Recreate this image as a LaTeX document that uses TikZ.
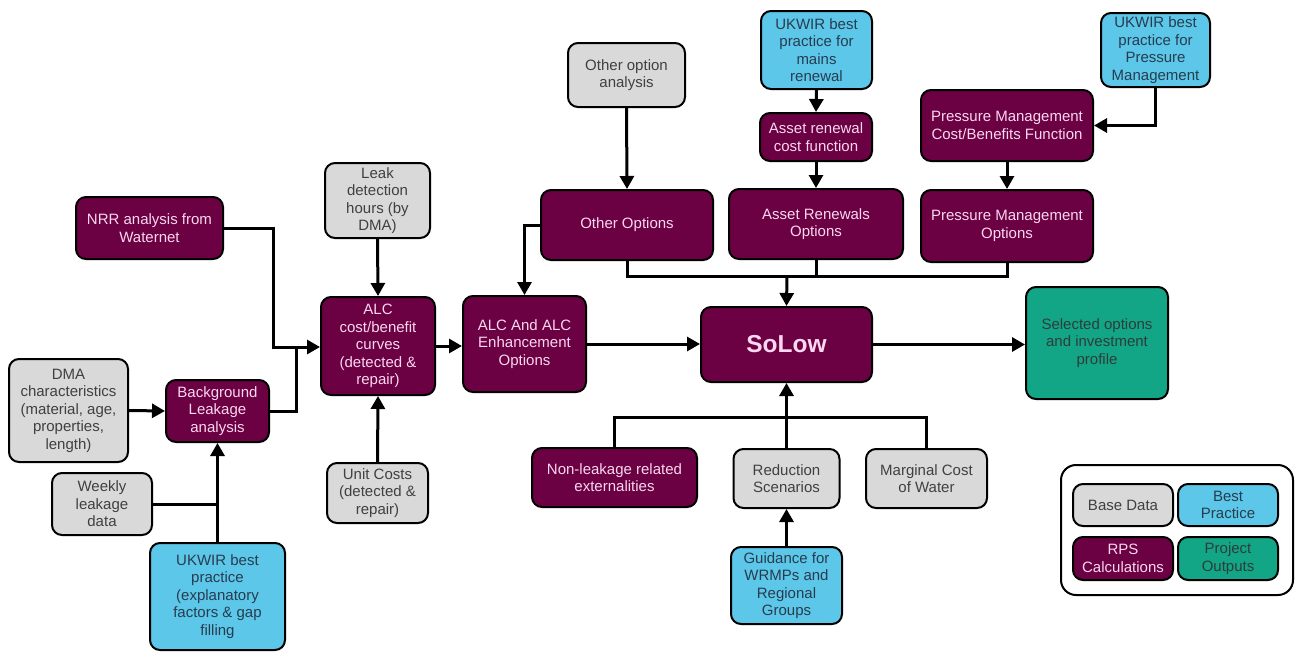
\documentclass[tikz,border=0pt]{standalone}
\usepackage{fontspec}
\setmainfont{Liberation Sans}
\usetikzlibrary{arrows.meta}
\definecolor{rpsfill}{RGB}{107,0,66}
\definecolor{rpstext}{RGB}{250,215,240}
\definecolor{basefill}{RGB}{217,217,217}
\definecolor{basetext}{RGB}{64,64,64}
\definecolor{bestfill}{RGB}{92,199,232}
\definecolor{besttext}{RGB}{40,60,80}
\definecolor{outfill}{RGB}{18,166,134}
\definecolor{outtext}{RGB}{45,60,60}
\tikzset{
  box/.style={draw=black, line width=2pt, rounded corners=10pt, align=center, inner sep=0pt,
    font=\fontsize{15}{17.5}\selectfont},
  rps/.style={box, fill=rpsfill, text=rpstext},
  base/.style={box, fill=basefill, text=basetext},
  best/.style={box, fill=bestfill, text=besttext},
  outp/.style={box, fill=outfill, text=outtext},
  sz/.style 2 args={minimum width=#1pt, minimum height=#2pt},
  conn/.style={line width=3pt, draw=black},
  arr/.style={conn, -{Triangle[length=13pt,width=14pt]}},
}
\begin{document}
\begin{tikzpicture}[x=1pt,y=-1pt]
\useasboundingbox (0,0) rectangle (1295,653);
% left column
\node[rps, sz={147}{62}] (nrr) at (149.5,228) {NRR analysis from\\Waternet};
\node[base, sz={119}{103}] (dma) at (68.5,410.5) {DMA\\characteristics\\(material, age,\\properties,\\length)};
\node[rps, sz={103}{62}] (bg) at (217.5,411) {Background\\Leakage\\analysis};
\node[base, sz={100}{62}] (weekly) at (102,504) {Weekly\\leakage\\data};
\node[best, sz={135}{107}] (ukwir1) at (217.5,596.5) {UKWIR best\\practice\\(explanatory\\factors \& gap\\filling};
% ALC column
\node[base, sz={105}{75}] (leak) at (377.5,200.5) {Leak\\detection\\hours (by\\DMA)};
\node[rps, sz={114}{98}] (alccb) at (378,346) {ALC\\cost/benefit\\curves\\(detected \&\\repair)};
\node[base, sz={101}{60}] (unit) at (377.5,493) {Unit Costs\\(detected \&\\repair)};
\node[rps, sz={123}{96}] (alcenh) at (524.5,344) {ALC And ALC\\Enhancement\\Options};
% top row
\node[base, sz={117}{64}] (ooa) at (626.5,75) {Other option\\analysis};
\node[best, sz={111}{78}] (ukwir2) at (816.5,50) {UKWIR best\\practice for\\mains\\renewal};
\node[rps, sz={112}{48}] (arcf) at (816,137) {Asset renewal\\cost function};
\node[rps, sz={172}{70}] (oo) at (627,225) {Other Options};
\node[rps, sz={174}{70}] (aro) at (816,224) {Asset Renewals\\Options};
\node[best, sz={109}{74}] (ukwir3) at (1155.5,50) {UKWIR best\\practice for\\Pressure\\Management};
\node[rps, sz={172}{71}] (pmcb) at (1007,125.5) {Pressure Management\\Cost/Benefits Function};
\node[rps, sz={172}{72}] (pmo) at (1007,226) {Pressure Management\\Options};
% centre
\node[rps, sz={171}{75}, font=\fontsize{24.5}{28}\selectfont\bfseries] (solow) at (786.5,344.5) {SoLow};
\node[outp, sz={142}{112}] (sel) at (1097,343) {Selected options\\and investment\\profile};
% bottom row
\node[rps, sz={165}{59}] (nonleak) at (614.5,477.5) {Non-leakage related\\externalities};
\node[base, sz={106}{59}] (red) at (786.5,478.5) {Reduction\\Scenarios};
\node[base, sz={121}{59}] (marg) at (926.5,478.5) {Marginal Cost\\of Water};
\node[best, sz={111}{77}] (guid) at (786.5,585.5) {Guidance for\\WRMPs and\\Regional\\Groups};
% legend
\node[draw=black, line width=2pt, rounded corners=15pt, fill=white, minimum width=232pt, minimum height=130pt, inner sep=0pt] (legend) at (1177,530) {};
\node[base, sz={100}{42}] (lbase) at (1123,505) {Base Data};
\node[best, sz={100}{42}] (lbest) at (1228,505) {Best\\Practice};
\node[rps, sz={100}{43}] (lrps) at (1123,558.5) {RPS\\Calculations};
\node[outp, sz={100}{43}] (lout) at (1228,558.5) {Project\\Outputs};
% connectors
\coordinate (j1) at (296,347);
\draw[conn] (nrr.east) -| (273,347) -- (j1);
\draw[conn] (bg.east) -| (j1);
\draw[arr] (j1) -- (alccb.west |- j1);
\draw[arr] (dma.east) -- (bg.west);
\draw[conn] (weekly.east) -- (weekly.east -| ukwir1.north);
\draw[arr] (ukwir1.north) -- (bg.south);
\draw[arr] (leak.south) -- (alccb.north);
\draw[arr] (unit.north) -- (alccb.south);
\draw[arr] (alccb.east) -- (alcenh.west |- alccb.east);
\draw[arr] (oo.west) -| (alcenh.north);
\draw[arr] (alcenh.east) -- (solow.west |- alcenh.east);
\draw[arr] (ooa.south) -- (oo.north);
\draw[arr] (ukwir2.south) -- (arcf.north);
\draw[arr] (arcf.south) -- (aro.north);
\draw[arr] (ukwir3.south) |- (pmcb.east);
\draw[arr] (pmcb.south) -- (pmo.north);
\coordinate (bus) at (787,276);
\draw[conn] (oo.south) |- (bus) -| (pmo.south);
\draw[conn] (aro.south) -- (aro.south |- bus);
\draw[arr] (bus) -- (solow.north);
\draw[arr] (solow.east) -- (sel.west |- solow.east);
\coordinate (lbus) at (787,417);
\draw[conn] (nonleak.north) |- (lbus) -| (marg.north);
\draw[arr] (red.north) -- (solow.south);
\draw[arr] (guid.north) -- (red.south);
\end{tikzpicture}
\end{document}
